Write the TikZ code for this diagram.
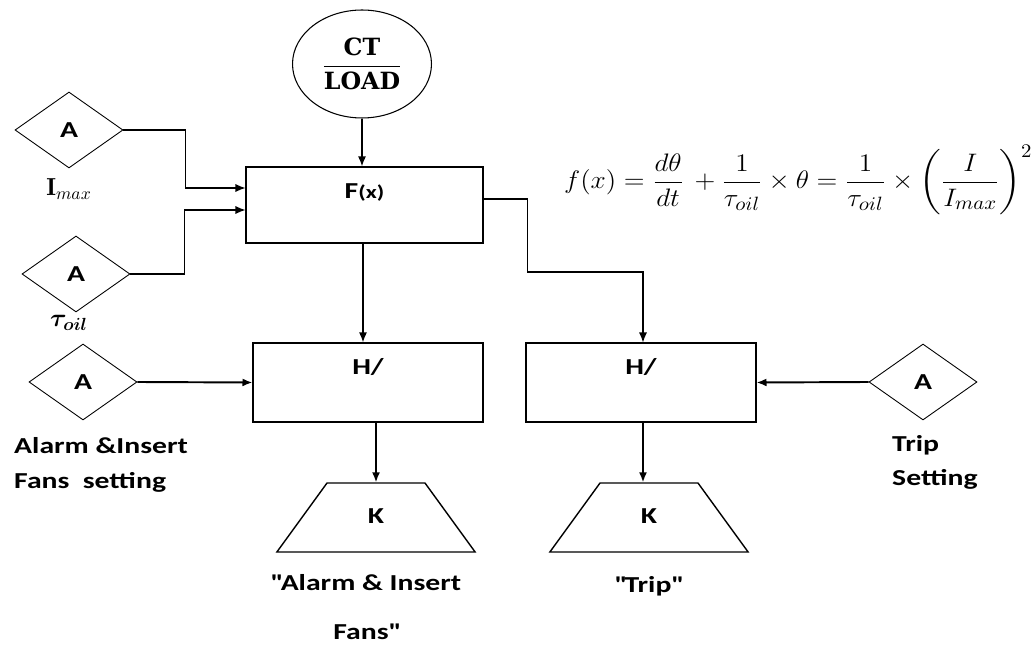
\documentclass[tikz,border=0pt]{standalone}
\usepackage{amsmath,amssymb,bm}
\usepackage{fontspec}
\setsansfont{Carlito}[FakeStretch=1.3]
\newfontfamily\ctfont{DejaVu Serif}
\usetikzlibrary{arrows.meta,shapes.geometric}

\tikzset{
  txt/.style={font=\sffamily\bfseries\fontsize{13}{15}\selectfont},
  dia/.style={diamond, draw, line width=0.5pt, inner sep=0pt,
              minimum width=2.16cm, minimum height=1.52cm, txt},
  blk/.style={draw, line width=0.6pt, inner sep=0pt,
              minimum width=4.6cm, minimum height=1.58cm},
  kbox/.style={trapezium, draw, line width=0.8pt, trapezium angle=54,
               text width=1.96cm, align=center, inner xsep=0pt,
               text height=0.25cm, text depth=0cm, inner ysep=0.565cm, txt},
  thin/.style={line width=0.6pt, -{Latex[length=2mm,width=1.6mm]}},
  thick/.style={line width=1.1pt, -{Latex[length=2mm,width=1.6mm]}},
  mid/.style={line width=0.9pt, -{Latex[length=2mm,width=1.6mm]}}
}

\begin{document}
\begin{tikzpicture}[x=0.02cm,y=-0.02cm]
  \useasboundingbox (0,0) rectangle (1036,648);

  % inputs
  \foreach \nm/\px/\py in {imax/69/130, toil/76/274, alarm/83/382, trip/923/382}
    \node[dia] (\nm) at (\px,\py) {A};
  \node[ellipse, draw, line width=0.6pt, inner sep=0pt,
        minimum width=2.78cm, minimum height=2.16cm] (ct) at (362,64)
    {\fontsize{13.5}{15}\selectfont$\dfrac{\textbf{\ctfont CT}}{\textbf{\ctfont LOAD}}$};

  % blocks
  \node[blk, minimum width=4.74cm, minimum height=1.52cm] (fx) at (364.5,205) {};
  \node[blk] (h1) at (368,382.5) {};
  \node[blk] (h2) at (641,382.5) {};
  \node[txt] (fxlab) at ([yshift=-0.52cm]fx.north) {F{\fontsize{10.5}{12}\selectfont(x)}};
  \node[txt] (h1lab) at ([yshift=-0.5cm]h1.north) {H/};
  \node[txt] (h2lab) at ([yshift=-0.5cm]h2.north) {H/};
  \node[kbox] (k1) at (376,517.5) {K};
  \node[kbox] (k2) at (649,517.5) {K};

  % labels
  \node[font=\fontsize{14}{16}\selectfont] (imaxlab) at (69,189) {$\mathbf{I}_{max}$};
  \node[font=\fontsize{14}{16}\selectfont] (toillab) at (69,323) {$\bm{\tau}_{\bm{oil}}$};
  \node[anchor=west, align=left, font=\sffamily\bfseries\fontsize{13}{20}\selectfont]
    (alarmlab) at (8,465) {Alarm \&Insert\\Fans\ \ setting};
  \node[anchor=west, align=left, font=\sffamily\bfseries\fontsize{13}{19.4}\selectfont]
    (triplab) at (886,462) {Trip\\Setting};
  \node[align=center, font=\sffamily\bfseries\fontsize{13}{28}\selectfont]
    (k1lab) at (366,607) {\textquotedbl Alarm \& Insert\\Fans\textquotedbl};
  \node[txt] (k2lab) at (648,586) {\textquotedbl Trip\textquotedbl};

  % equation
  \node[anchor=west, font=\fontsize{15.5}{18}\selectfont] (eq) at (558,180)
    {\scalebox{1.08}[1]{$\displaystyle f(x)=\frac{d\theta}{dt}\,+\frac{1}{\tau_{oil}}\times\theta=\frac{1}{\tau_{oil}}\times\left(\frac{I}{I_{max}}\right)^{2}$}};

  % connectors
  \draw[mid] (ct.south) -- (ct.south |- fx.north);
  \draw[thin] (imax.east) -- ++(62,0) |- ([yshift=0.34cm]fx.west);
  \draw[thin] (toil.east) -- ++(54,0) |- ([yshift=-0.1cm]fx.west);
  \draw[mid] ([xshift=-0.03cm]fx.south) -- ([xshift=-0.03cm]fx.south |- h1.north);
  \draw[thin] ([yshift=0.12cm]fx.east) -- ++(44,0) -- ++(0,73) -| ([xshift=0.04cm]h2.north);
  \draw[thick] (alarm.east) -- (h1.west);
  \draw[thick] (trip.west) -- (h2.east);
  \draw[mid] (k1.north |- h1.south) -- (k1.north);
  \draw[mid] ([xshift=0.04cm]h2.south) -- ([xshift=0.04cm]h2.south |- k2.north);
\end{tikzpicture}
\end{document}
